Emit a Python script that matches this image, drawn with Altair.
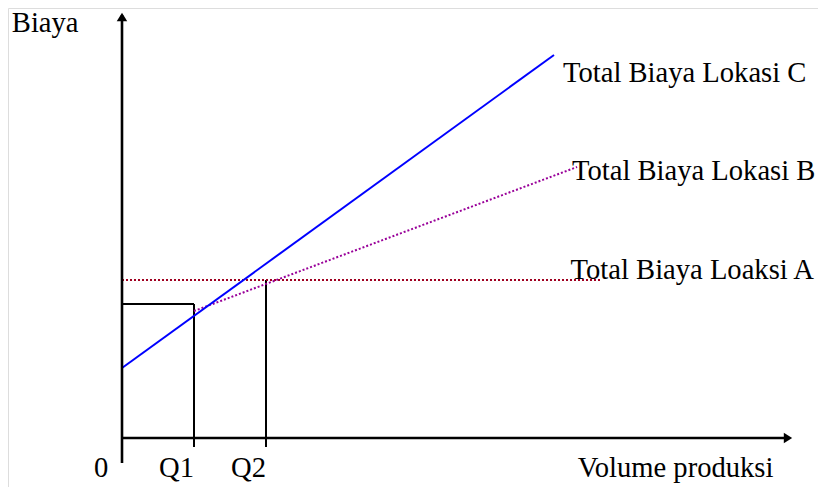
import altair as alt
import pandas as pd

# ---- data ----
# volume axis: Q1 = 1, Q2 = 2 ; cost in arbitrary units
tick_labels = ["0", "Q1", "Q2"]
tick_pos = [-0.19, 1, 2]

series_names = ["Total Biaya Lokasi C", "Total Biaya Lokasi B", "Total Biaya Loaksi A"]
c_x = [0.0, 6.0]
c_y = [7.0, 38.3]
b_x = [1.0, 6.32]
b_y = [12.7, 27.1]
a_x = [0.0, 6.64]
a_y = [15.8, 15.8]

label_x = [6.125, 6.25, 6.23]
label_y = [35.6, 25.8, 15.9]

q1_cost = 13.4
q2_cost = 15.8
x_axis_end = 9.32
y_axis_top = 42.6
y_axis_bottom = -2.5
tick_bottom = -0.9
label_base = -3.9

H = 479
X_DOM = [-114 / 72, (810 - 114) / 72]
Y_DOM = [(430 - H) / 10, 43.0]

xs = alt.Scale(domain=X_DOM, nice=False, zero=False)
ys = alt.Scale(domain=Y_DOM, nice=False, zero=False)

def X(f="x"):
    return alt.X(f"{f}:Q", scale=xs, axis=None)

def Y(f="y"):
    return alt.Y(f"{f}:Q", scale=ys, axis=None)

SERIF = "Liberation Serif"
FS = 28.6

lines_df = pd.DataFrame({
    "x": c_x + b_x + a_x,
    "y": c_y + b_y + a_y,
    "s": [series_names[0]] * 2 + [series_names[1]] * 2 + [series_names[2]] * 2,
})

line_c = alt.Chart(lines_df[lines_df.s == series_names[0]]).mark_line(
    color="#0000FF", strokeWidth=2).encode(x=X(), y=Y())
line_b = alt.Chart(lines_df[lines_df.s == series_names[1]]).mark_line(
    color="#990099", strokeWidth=2, strokeDash=[2, 2]).encode(x=X(), y=Y())
line_a = alt.Chart(lines_df[lines_df.s == series_names[2]]).mark_line(
    color="#A00020", strokeWidth=2, strokeDash=[2, 2]).encode(x=X(), y=Y())

# black guide lines (rectangle at Q1, vertical at Q2)
seg_df = pd.DataFrame({
    "x": [0, 1, 2],
    "x2": [1, 1, 2],
    "y": [q1_cost, q1_cost, q2_cost],
    "y2": [q1_cost, tick_bottom, tick_bottom],
})
guides = alt.Chart(seg_df).mark_rule(color="black", strokeWidth=2).encode(
    x=X(), x2="x2:Q", y=Y(), y2="y2:Q")

# axes
axes_df = pd.DataFrame({
    "x": [0, 0],
    "x2": [x_axis_end - 0.1, 0],
    "y": [0, y_axis_bottom],
    "y2": [0, y_axis_top - 0.3],
})
axes = alt.Chart(axes_df).mark_rule(color="black", strokeWidth=2.6).encode(
    x=X(), x2="x2:Q", y=Y(), y2="y2:Q")

arrow_df = pd.DataFrame({
    "x": [0, x_axis_end - 0.07],
    "y": [y_axis_top - 0.5, 0],
    "a": [0, 90],
})
arrows = alt.Chart(arrow_df).mark_point(
    shape="M0,-0.8 L-1,0.8 L1,0.8 Z", filled=True, color="black", opacity=1, size=110
).encode(x=X(), y=Y(), angle=alt.Angle("a:Q", scale=None))

# series labels
lab_df = pd.DataFrame({"x": label_x, "y": label_y, "t": series_names})
labels = alt.Chart(lab_df).mark_text(
    align="left", baseline="alphabetic", font=SERIF, fontSize=FS, color="black"
).encode(x=X(), y=Y(), text="t:N")

tick_df = pd.DataFrame({"x": tick_pos, "y": [label_base] * 3, "t": tick_labels})
tick_text = alt.Chart(tick_df).mark_text(
    align="right", baseline="alphabetic", font=SERIF, fontSize=FS, color="black"
).encode(x=X(), y=Y(), text="t:N")

title_df = pd.DataFrame({
    "x": [-1.53, 6.33],
    "y": [40.6, label_base],
    "t": ["Biaya", "Volume produksi"],
})
titles = alt.Chart(title_df).mark_text(
    align="left", baseline="alphabetic", font=SERIF, fontSize=FS, color="black"
).encode(x=X(), y=Y(), text="t:N")

chart = alt.layer(
    guides, line_a, line_b, line_c, axes, arrows, labels, tick_text, titles
).properties(
    width=810, height=H, padding=0,
    autosize=alt.AutoSizeParams(type="none"),
).configure_view(stroke=None).configure(background="transparent")

chart.save("out.html", embed_options={"renderer": "svg", "actions": False})
